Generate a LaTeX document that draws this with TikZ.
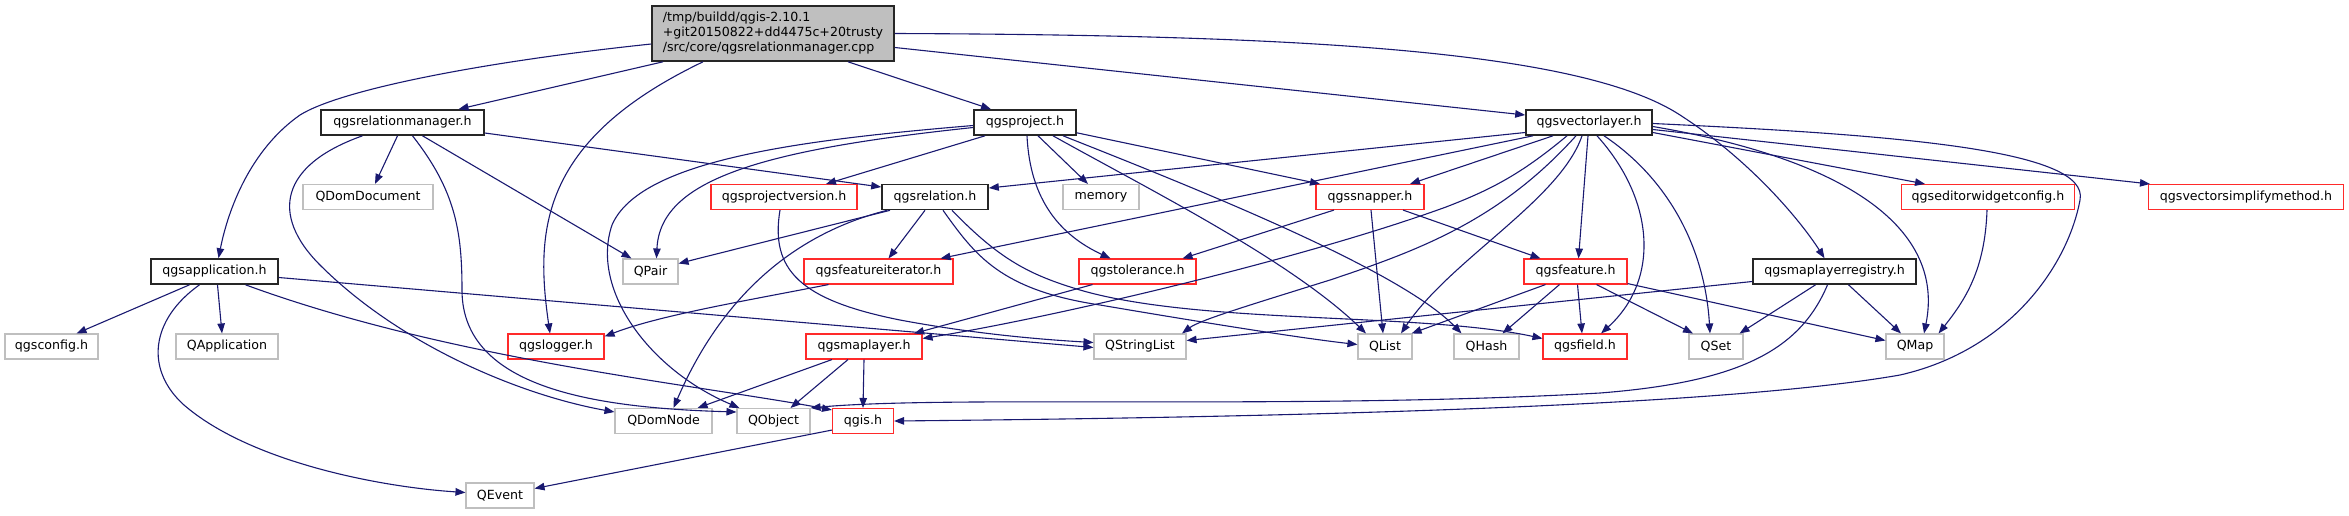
\documentclass[tikz,border=0pt]{standalone}
\usepackage{fontspec}
\setmainfont{DejaVu Sans}
\usetikzlibrary{arrows.meta}
\definecolor{edgeblue}{HTML}{191970}
\definecolor{boxgray}{HTML}{BFBFBF}
\definecolor{boxred}{HTML}{FF2A2A}
\tikzset{
  gbox/.style={draw, rectangle, inner sep=0pt, minimum height=25pt, font=\fontsize{12.6}{15}\selectfont, fill=white, line width=1.1pt},
  blackbox/.style={gbox, draw=black!85, line width=1.6pt},
  redbox/.style={gbox, draw=boxred},
  graybox/.style={gbox, draw=boxgray},
  rootbox/.style={gbox, draw=black!85, line width=1.6pt, fill=boxgray, minimum height=55pt, align=left},
  edge/.style={draw=edgeblue, line width=1.1pt, -{Triangle[length=10pt,width=7.5pt]}},
}
\begin{document}
\begin{tikzpicture}[x=1pt,y=-1pt]
\useasboundingbox (0,0) rectangle (2349,515);
% nodes
\node[rootbox, minimum width=242pt] (root) at (773,33.5) {/tmp/buildd/qgis-2.10.1\\+git20150822+dd4475c+20trusty\\/src/core/qgsrelationmanager.cpp};
\node[blackbox, minimum width=163pt] (rm) at (402.5,122.5) {qgsrelationmanager.h};
\node[blackbox, minimum width=102pt] (proj) at (1025,122.5) {qgsproject.h};
\node[blackbox, minimum width=126pt] (vl) at (1589,122.5) {qgsvectorlayer.h};
\node[graybox, minimum width=130pt] (domdoc) at (368,197) {QDomDocument};
\node[redbox, minimum width=146pt] (pver) at (784,197) {qgsprojectversion.h};
\node[blackbox, minimum width=106pt] (rel) at (935,197) {qgsrelation.h};
\node[graybox, minimum width=76pt] (mem) at (1101,197) {memory};
\node[redbox, minimum width=108pt] (snap) at (1370,197) {qgssnapper.h};
\node[redbox, minimum width=173pt] (ewc) at (1988,197) {qgseditorwidgetconfig.h};
\node[redbox, minimum width=195pt] (vsm) at (2246,197) {qgsvectorsimplifymethod.h};
\node[blackbox, minimum width=127pt] (app) at (214.5,271.5) {qgsapplication.h};
\node[graybox, minimum width=55pt] (qpair) at (650.5,271.5) {QPair};
\node[redbox, minimum width=149pt] (fi) at (878.5,271.5) {qgsfeatureiterator.h};
\node[redbox, minimum width=117pt] (tol) at (1137.5,271.5) {qgstolerance.h};
\node[redbox, minimum width=103pt] (feat) at (1575.5,271.5) {qgsfeature.h};
\node[blackbox, minimum width=163pt] (mlr) at (1834.5,271.5) {qgsmaplayerregistry.h};
\node[graybox, minimum width=93pt] (cfg) at (51.5,346.5) {qgsconfig.h};
\node[graybox, minimum width=102pt] (qapp) at (227,346.5) {QApplication};
\node[redbox, minimum width=96pt] (log) at (556,346.5) {qgslogger.h};
\node[redbox, minimum width=116pt] (ml) at (864,346.5) {qgsmaplayer.h};
\node[graybox, minimum width=92pt] (qsl) at (1140,346.5) {QStringList};
\node[graybox, minimum width=54pt] (qlist) at (1385,346.5) {QList};
\node[graybox, minimum width=65pt] (qhash) at (1486.5,346.5) {QHash};
\node[redbox, minimum width=84pt] (field) at (1585,346.5) {qgsfield.h};
\node[graybox, minimum width=54pt] (qset) at (1716,346.5) {QSet};
\node[graybox, minimum width=58pt] (qmap) at (1915,346.5) {QMap};
\node[graybox, minimum width=97pt] (dnode) at (663.5,421) {QDomNode};
\node[graybox, minimum width=73pt] (qobj) at (773.5,421) {QObject};
\node[redbox, minimum width=61pt] (qgis) at (863,421) {qgis.h};
\node[graybox, minimum width=68pt] (qevent) at (500,495.5) {QEvent};
% edges from root
\draw[edge] ([yshift=-10.5pt]root.west) .. controls (480,62) and (340,90) .. (300,115) .. controls (250,150) and (228,210) .. ([xshift=4pt]app.north);
\draw[edge] ([xshift=-110pt]root.south) -- ([xshift=56pt]rm.north);
\draw[edge] ([xshift=-70pt]root.south) .. controls (540,140) and (535,230) .. ([xshift=-6pt]log.north);
\draw[edge] ([xshift=75pt]root.south) -- ([xshift=-34pt]proj.north);
\draw[edge] ([yshift=-14pt]root.east) -- ([yshift=7.5pt]vl.west);
\draw[edge] (root.east) .. controls (1300,35) and (1580,50) .. (1680,115) .. controls (1750,160) and (1800,220) .. ([xshift=-10pt]mlr.north);
% qgsrelationmanager.h
\draw[edge] ([xshift=-5pt]rm.south) -- ([xshift=7pt]domdoc.north);
\draw[edge] ([xshift=-40pt]rm.south) .. controls (280,165) and (270,215) .. (320,265) .. controls (400,345) and (520,395) .. ([yshift=9pt]dnode.west);
\draw[edge] ([xshift=10pt]rm.south) .. controls (455,190) and (462,230) .. (462,290) .. controls (462,390) and (600,408) .. ([yshift=9pt]qobj.west);
\draw[edge] ([xshift=20pt]rm.south) -- ([xshift=-19pt]qpair.north);
\draw[edge] ([yshift=-10.5pt]rm.east) -- ([yshift=10pt]rel.west);
% qgsproject.h
\draw[edge] ([yshift=-5pt]proj.west) .. controls (760,150) and (660,180) .. ([xshift=6pt]qpair.north);
\draw[edge] ([yshift=-3pt]proj.west) .. controls (800,140) and (640,160) .. (612,225) .. controls (590,290) and (650,370) .. ([xshift=3pt]qobj.north west);
\draw[edge] ([xshift=-40pt]proj.south) -- ([xshift=42pt]pver.north);
\draw[edge] ([xshift=13pt]proj.south) -- ([xshift=-13pt]mem.north);
\draw[edge] ([xshift=2pt]proj.south) .. controls (1030,200) and (1060,235) .. ([xshift=-27pt]tol.north);
\draw[edge] ([yshift=3pt]proj.south east) -- ([xshift=-50pt]snap.north);
\draw[edge] ([xshift=28pt]proj.south) .. controls (1150,190) and (1290,260) .. ([xshift=-19pt]qlist.north);
\draw[edge] ([xshift=38pt]proj.south) .. controls (1200,190) and (1400,270) .. ([xshift=-25pt]qhash.north);
% qgsrelation.h
\draw[edge] ([xshift=-45pt]rel.south) -- ([yshift=8pt]qpair.east);
\draw[edge] ([xshift=-48pt]rel.south) .. controls (790,235) and (720,300) .. ([xshift=10pt]dnode.north);
\draw[edge] ([xshift=-10pt]rel.south) -- ([xshift=10pt]fi.north);
\draw[edge] ([xshift=8pt]rel.south) .. controls (975,255) and (1000,290) .. (1100,305) .. controls (1200,322) and (1300,338) .. ([yshift=2pt]qlist.west);
\draw[edge] ([xshift=17pt]rel.south) .. controls (1000,260) and (1030,275) .. (1080,290) .. controls (1200,325) and (1420,312) .. ([yshift=8pt]field.west);
% others in row 2/3
\draw[edge] ([xshift=-4pt]pver.south) .. controls (770,270) and (800,300) .. (900,320) .. controls (980,335) and (1050,340) .. ([yshift=4pt]qsl.west);
\draw[edge] ([xshift=-50pt]fi.south) .. controls (750,300) and (660,315) .. ([yshift=10pt]log.east);
\draw[edge] ([xshift=-45pt]tol.south) -- ([xshift=50pt]ml.north);
\draw[edge] ([xshift=-36pt]snap.south) -- ([xshift=45pt]tol.north);
\draw[edge] ([xshift=1pt]snap.south) -- ([xshift=-2pt]qlist.north);
\draw[edge] ([xshift=33pt]snap.south) -- ([xshift=-35pt]feat.north);
% qgsvectorlayer.h
\draw[edge] ([yshift=-10pt]vl.west) -- ([yshift=9pt]rel.east);
\draw[edge] ([xshift=-56pt]vl.south) -- ([xshift=62pt]fi.north);
\draw[edge] ([xshift=-36pt]vl.south) -- ([xshift=40pt]snap.north);
\draw[edge] ([xshift=-22pt]vl.south) .. controls (1520,175) and (1490,190) .. (1446,207) .. controls (1300,260) and (1050,318) .. ([yshift=8pt]ml.east);
\draw[edge] ([xshift=-13pt]vl.south) .. controls (1500,220) and (1420,250) .. (1330,280) .. controls (1250,305) and (1200,320) .. ([xshift=42pt]qsl.north);
\draw[edge] ([xshift=-7pt]vl.south) .. controls (1560,200) and (1450,260) .. ([xshift=16pt]qlist.north);
\draw[edge] ([xshift=-1pt]vl.south) -- ([xshift=3pt]feat.north);
\draw[edge] ([xshift=8pt]vl.south) .. controls (1655,200) and (1660,280) .. ([xshift=16pt]field.north);
\draw[edge] ([xshift=15pt]vl.south) .. controls (1670,180) and (1705,250) .. ([xshift=-6pt]qset.north);
\draw[edge] ([yshift=-10pt]vl.east) -- ([xshift=-63pt]ewc.north);
\draw[edge] ([yshift=-7pt]vl.east) -- ([xshift=2pt]vsm.north west);
\draw[edge] ([yshift=-4pt]vl.east) .. controls (1850,160) and (1945,230) .. ([xshift=9pt]qmap.north);
\draw[edge] ([yshift=-1pt]vl.east) .. controls (1900,135) and (2090,150) .. (2080,200) .. controls (2068,265) and (2010,350) .. (1900,375) .. controls (1700,410) and (1200,418) .. (qgis.east);
% qgsmaplayerregistry.h
\draw[edge] ([xshift=-7pt]mlr.south) .. controls (1800,350) and (1740,382) .. (1600,393) .. controls (1300,410) and (950,395) .. (qobj.north east);
\draw[edge] ([yshift=-10pt]mlr.west) -- ([yshift=6pt]qsl.east);
\draw[edge] ([xshift=-19pt]mlr.south) -- ([xshift=-4pt]qset.north east);
\draw[edge] ([xshift=14pt]mlr.south) -- ([xshift=-14pt]qmap.north);
% qgsfeature.h
\draw[edge] ([xshift=-30pt]feat.south) -- ([xshift=-1pt]qlist.north east);
\draw[edge] ([xshift=-16pt]feat.south) -- ([xshift=16pt]qhash.north);
\draw[edge] ([xshift=2pt]feat.south) -- ([xshift=-3pt]field.north);
\draw[edge] ([xshift=21pt]feat.south) -- ([xshift=-23pt]qset.north);
\draw[edge] ([yshift=1pt]feat.south east) -- ([yshift=6pt]qmap.west);
% qgseditorwidgetconfig.h
\draw[edge] ([xshift=-1pt]ewc.south) .. controls (1985,270) and (1965,300) .. ([xshift=-6pt]qmap.north east);
% qgsmaplayer.h
\draw[edge] ([xshift=-32pt]ml.south) -- ([xshift=-15pt]dnode.north east);
\draw[edge] ([xshift=-16pt]ml.south) -- ([xshift=17pt]qobj.north);
\draw[edge] (ml.south) -- (qgis.north);
% qgis.h
\draw[edge] ([yshift=4pt]qgis.south west) -- ([yshift=7pt]qevent.east);
% qgsapplication.h
\draw[edge] ([xshift=-25pt]app.south) -- ([xshift=25pt]cfg.north);
\draw[edge] ([xshift=3pt]app.south) -- ([xshift=-5pt]qapp.north);
\draw[edge] ([xshift=-15pt]app.south) .. controls (150,320) and (145,370) .. (184,405) .. controls (250,462) and (380,487) .. ([yshift=3pt]qevent.west);
\draw[edge] ([xshift=31pt]app.south) .. controls (450,360) and (700,385) .. ([yshift=-2pt]qgis.north west);
\draw[edge] ([yshift=-6pt]app.east) -- ([yshift=-1pt]qsl.west);
\end{tikzpicture}
\end{document}
